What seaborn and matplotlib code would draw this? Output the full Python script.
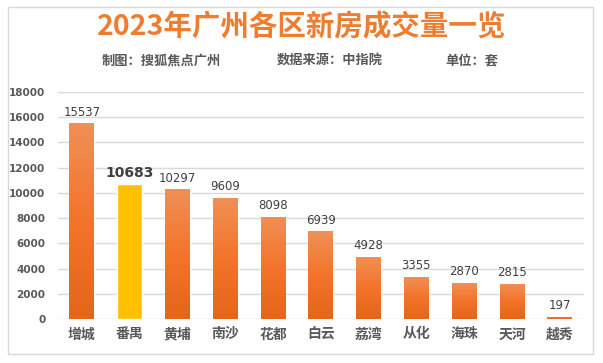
import numpy as np
import pandas as pd
import matplotlib
matplotlib.use('Agg')
import matplotlib.pyplot as plt
import seaborn as sns
from matplotlib.patches import Rectangle
from matplotlib.colors import LinearSegmentedColormap

# data
districts = ['增城', '番禺', '黄埔', '南沙', '花都', '白云', '荔湾', '从化', '海珠', '天河', '越秀']
volumes = [15537, 10683, 10297, 9609, 8098, 6939, 4928, 3355, 2870, 2815, 197]
highlight = '番禺'
yticks = [0, 2000, 4000, 6000, 8000, 10000, 12000, 14000, 16000, 18000]

df = pd.DataFrame({'district': districts, 'volume': volumes})

sns.set_theme(style='white')
plt.rcParams['font.family'] = ['Noto Sans CJK SC', 'DejaVu Sans']

fig = plt.figure(figsize=(6.03, 3.63), dpi=100)
ax = fig.add_axes([0.096, 0.121, 0.872, 0.626])

palette = ['#FFC000' if d == highlight else '#EE7B30' for d in districts]
sns.barplot(x='district', y='volume', data=df, hue='district', palette=palette,
            legend=False, width=0.52, saturation=1, ax=ax, zorder=3)

# gradient fill on the orange bars
grad = LinearSegmentedColormap.from_list('og', ['#E4661A', '#F3742A', '#F09055'])
g = np.linspace(0, 1, 64).reshape(-1, 1)
for patch, d in zip(ax.patches, districts):
    if d == highlight:
        continue
    x0, y0 = patch.get_x(), patch.get_y()
    w, h = patch.get_width(), patch.get_height()
    im = ax.imshow(g, cmap=grad, origin='lower', aspect='auto',
                   extent=[x0, x0 + w, y0, y0 + h], zorder=4)
    im.set_clip_path(patch)

ax.set_xlim(-0.5, len(districts) - 0.5)
ax.set_ylim(0, 18000)
ax.set_yticks(yticks)
ax.set_yticklabels([str(t) for t in yticks], fontsize=7.5, fontweight='bold',
                   color='#595959', family='DejaVu Sans')
ax.tick_params(axis='y', length=0, pad=9)
ax.tick_params(axis='x', length=0, pad=6)
for lab in ax.get_xticklabels():
    lab.set_fontsize(10)
    lab.set_fontweight('bold')
    lab.set_color('#595959')
ax.yaxis.grid(True, color='#D9D9D9', linewidth=1, zorder=0)
ax.set_axisbelow(True)
for s in ax.spines.values():
    s.set_visible(False)
ax.set_xlabel('')
ax.set_ylabel('')

# value labels
for i, (d, v) in enumerate(zip(districts, volumes)):
    if d == highlight:
        ax.text(i, v + 350, str(v), ha='center', va='bottom', fontsize=10,
                fontweight='bold', color='#404040', family='DejaVu Sans', zorder=5)
    else:
        ax.text(i, v + 350, str(v), ha='center', va='bottom', fontsize=8.5,
                color='#404040', family='DejaVu Sans', zorder=5)

# titles
fig.text(0.5, 0.925, '2023年广州各区新房成交量一览', ha='center', va='center',
         fontsize=20.5, fontweight='heavy', color='#ED7D31')
fig.text(0.168, 0.833, '制图：搜狐焦点广州', ha='left', va='center',
         fontsize=9.5, fontweight='bold', color='#595959')
fig.text(0.459, 0.833, '数据来源：中指院', ha='left', va='center',
         fontsize=9.5, fontweight='bold', color='#595959')
fig.text(0.738, 0.833, '单位：套', ha='left', va='center',
         fontsize=9.5, fontweight='bold', color='#595959')

# outer border
fig.patches.append(Rectangle((8 / 603, 1 - 354 / 363), 585 / 603, 347 / 363,
                             transform=fig.transFigure, fill=False,
                             edgecolor='#D9D9D9', linewidth=1))

fig.savefig('out.png', dpi=100)
